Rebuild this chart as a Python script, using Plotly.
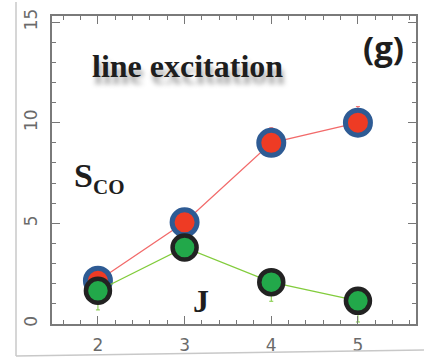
import plotly.graph_objects as go

# Data
J_levels = [2, 3, 4, 5]
sco_red = [2.15, 5.05, 9.0, 10.0]
sco_red_err_up = [0.5, 0.5, 0.75, 0.8]
sco_red_err_down = [0.5, 0.5, 0.5, 0.5]
sco_green = [1.65, 3.8, 2.08, 1.15]
sco_green_err_up = [0.6, 0.6, 0.6, 0.6]
sco_green_err_down = [0.95, 0.6, 0.95, 1.05]
x_ticks = [2, 3, 4, 5]
y_ticks = [0, 5, 10, 15]

W, H = 424, 359
L, R, T, B = 52, 8, 16, 35
PW, PH = W - L - R, H - T - B

def px(x):
    return (x - L) / PW

def py(y):
    return 1 - (y - T) / PH

fig = go.Figure()

fig.add_trace(go.Scatter(
    x=J_levels, y=sco_red, mode="lines+markers",
    line=dict(color="#f26a6a", width=1.3),
    marker=dict(size=25, color="#ee3b24", line=dict(color="#2e5b94", width=5)),
    error_y=dict(type="data", array=sco_red_err_up, arrayminus=sco_red_err_down,
                 color="#f26a6a", thickness=1, width=2),
    showlegend=False, cliponaxis=False,
))
fig.add_trace(go.Scatter(
    x=J_levels, y=sco_green, mode="lines+markers",
    line=dict(color="#82cc3c", width=1.3),
    marker=dict(size=24, color="#22a84a", line=dict(color="#222222", width=4.5)),
    error_y=dict(type="data", array=sco_green_err_up, arrayminus=sco_green_err_down,
                 color="#7cc93c", thickness=1, width=2),
    showlegend=False, cliponaxis=False,
))

axis_common = dict(
    showline=True, linecolor="#7a7a7a", linewidth=1.5, mirror="ticks",
    ticks="inside", ticklen=8, tickwidth=1.2, tickcolor="#777",
    showgrid=False, zeroline=False, automargin=False,
    tickfont=dict(family="DejaVu Sans", size=17, color="#6a6a6a"),
)

fig.update_xaxes(range=[1.47, 5.67], tickvals=x_ticks, ticklabelstandoff=5,
                 minor=dict(ticks="inside", dtick=0.2, ticklen=4, tickcolor="#777", tickwidth=1),
                 **axis_common)
fig.update_yaxes(range=[0, 15.3], tickvals=y_ticks, tickangle=-90, ticklabelstandoff=6,
                 minor=dict(ticks="inside", dtick=1, ticklen=4, tickcolor="#777", tickwidth=1),
                 **axis_common)

annots = [
    dict(text="<b>line excitation</b>", x=px(187), y=py(66), size=32,
         family="Liberation Serif", shadow="2px 7px 5px rgba(0,0,0,0.35)"),
    dict(text="<b>(g)</b>", x=px(383), y=py(47), size=33, family="Open Sans", shadow="none"),
    dict(text="<b>S</b>", x=px(83), y=py(175), size=34, family="Liberation Serif", shadow="none"),
    dict(text="<b>CO</b>", x=px(109), y=py(187), size=21, family="Liberation Serif", shadow="none"),
    dict(text="<b>J</b>", x=px(201), y=py(301), size=32, family="Liberation Serif", shadow="none"),
]
for a in annots:
    fig.add_annotation(text=a["text"], x=a["x"], y=a["y"], xref="paper", yref="paper",
                       xanchor="center", yanchor="middle", showarrow=False,
                       font=dict(family=a["family"], size=a["size"], color="#1e1e1e",
                                 shadow=a["shadow"]))

# panel frame lines
fig.add_shape(type="line", xref="paper", yref="paper", x0=px(16), x1=px(16), y0=py(2), y1=py(356),
              line=dict(color="#c8c8c8", width=1.5))
fig.add_shape(type="line", xref="paper", yref="paper", x0=px(16), x1=px(424), y0=py(356), y1=py(350),
              line=dict(color="#c8c8c8", width=1.5))

fig.update_layout(
    width=W, height=H,
    margin=dict(l=L, r=R, t=T, b=B),
    paper_bgcolor="white", plot_bgcolor="white",
)

fig.write_html("out.html")
